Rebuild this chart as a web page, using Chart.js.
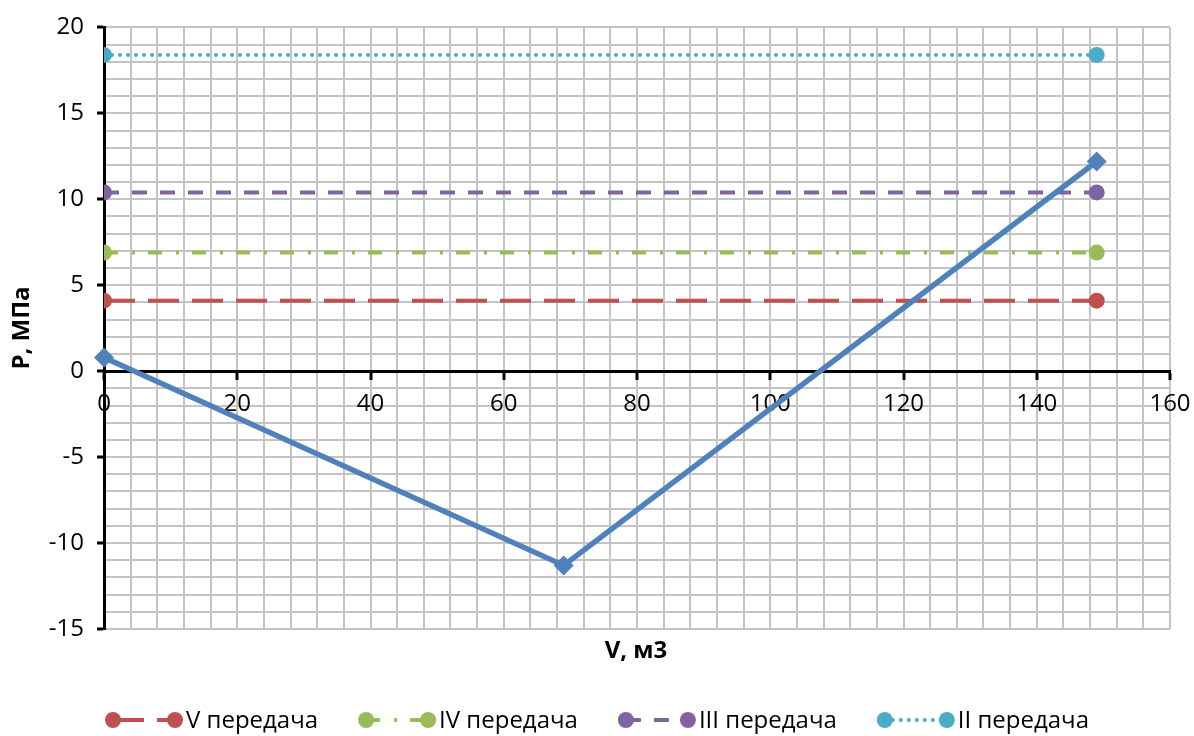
<!DOCTYPE html>
<html>
<head>
<meta charset="utf-8">
<script src="https://cdn.jsdelivr.net/npm/chart.js@4/dist/chart.umd.min.js"></script>
<style>
  html, body { margin: 0; padding: 0; background: #fff; }
  #wrap { width: 1194px; height: 736px; }
</style>
</head>
<body>
<div id="wrap"><canvas id="c" width="1194" height="736"></canvas></div>
<script>
// Pressure lines of each gear (constant over the volume range)
const gearNames = ['V передача', 'IV передача', 'III передача', 'II передача'];
const gearPressure = [4.1, 6.9, 10.4, 18.4];
const gearVolume = [0, 149];

// Pressure curve over volume
const curveVolume = [0, 69, 149];
const curvePressure = [0.8, -11.3, 12.2];

// Axis settings
const xMin = 0, xMax = 160, xStep = 4, xLabelStep = 20;
const yMin = -15, yMax = 20, yStep = 1, yLabelStep = 5;
const xTitle = 'V, м3';
const yTitle = 'P, МПа';

const FONT = '"Open Sans", "DejaVu Sans", sans-serif';
const FS = 24;

const gearStyles = [
  { color: '#C0504D', dash: [31, 13], cap: 'butt' },
  { color: '#9BBB59', dash: [14, 14, 3, 13], cap: 'butt' },
  { color: '#8064A2', dash: [15, 13], cap: 'butt' },
  { color: '#4BACC6', dash: [0.1, 7.9], cap: 'round' }
];

const gearSets = gearNames.map((name, i) => ({
  label: name,
  data: gearVolume.map(v => ({ x: v, y: gearPressure[i] })),
  borderColor: gearStyles[i].color,
  backgroundColor: gearStyles[i].color,
  borderWidth: 4,
  borderDash: gearStyles[i].dash,
  borderCapStyle: gearStyles[i].cap,
  pointStyle: 'circle',
  pointRadius: 8,
  pointBorderWidth: 0,
  pointHoverRadius: 8,
  clip: { left: 0, top: 12, right: 12, bottom: 12 },
  order: 2,
  inLegend: true
}));

const curveSet = {
  label: 'P(V)',
  data: curveVolume.map((v, i) => ({ x: v, y: curvePressure[i] })),
  borderColor: '#4F81BD',
  backgroundColor: '#4F81BD',
  borderWidth: 5.5,
  pointStyle: 'rectRot',
  pointRadius: 10,
  pointBorderWidth: 0,
  pointHoverRadius: 10,
  clip: false,
  order: 1,
  inLegend: false
};

// Line-and-marker legend below the plot, centered
const lineLegend = {
  id: 'lineLegend',
  afterDraw(chart) {
    const ctx = chart.ctx;
    const y = 720;
    const r = 8, seg = 62, textGap = 11, itemGap = 40;
    ctx.save();
    ctx.font = `${FS}px ${FONT}`;
    const items = chart.data.datasets.filter(d => d.inLegend);
    const widths = items.map(d => r + seg + textGap + ctx.measureText(d.label).width);
    const total = widths.reduce((a, b) => a + b, 0) + itemGap * (items.length - 1);
    let x = (chart.width - total) / 2;
    items.forEach((d, i) => {
      const x1 = x + r, x2 = x + r + seg;
      ctx.strokeStyle = d.borderColor;
      ctx.lineWidth = d.borderWidth;
      ctx.lineCap = d.borderCapStyle;
      ctx.setLineDash(d.borderDash);
      ctx.beginPath();
      ctx.moveTo(x1, y);
      ctx.lineTo(x2, y);
      ctx.stroke();
      ctx.setLineDash([]);
      ctx.fillStyle = d.backgroundColor;
      [x1, x2].forEach(px => {
        ctx.beginPath();
        ctx.arc(px, y, r, 0, Math.PI * 2);
        ctx.fill();
      });
      ctx.fillStyle = '#000';
      ctx.textAlign = 'left';
      ctx.textBaseline = 'middle';
      ctx.fillText(d.label, x2 + textGap, y + 1);
      x += widths[i] + itemGap;
    });
    ctx.restore();
  }
};

// Axis titles
const axisTitles = {
  id: 'axisTitles',
  afterDraw(chart) {
    const ctx = chart.ctx;
    ctx.save();
    ctx.fillStyle = '#000';
    ctx.font = `bold ${FS}px ${FONT}`;
    ctx.textAlign = 'center';
    ctx.textBaseline = 'middle';
    ctx.fillText(xTitle, 636, 651);
    ctx.translate(22, 328);
    ctx.rotate(-Math.PI / 2);
    ctx.fillText(yTitle, 0, 0);
    ctx.restore();
  }
};

new Chart(document.getElementById('c'), {
  type: 'line',
  data: { datasets: [...gearSets, curveSet] },
  plugins: [lineLegend, axisTitles],
  options: {
    responsive: false,
    animation: false,
    layout: { padding: { top: 24, right: 24, bottom: 107, left: 0 } },
    plugins: { legend: { display: false }, tooltip: { enabled: false } },
    scales: {
      x: {
        type: 'linear',
        min: xMin, max: xMax,
        position: { y: 0 },
        afterFit: s => { s.paddingRight = 0; s.paddingLeft = 0; },
        ticks: {
          stepSize: xStep,
          autoSkip: false,
          maxRotation: 0,
          padding: 12,
          color: '#000',
          font: { family: FONT, size: FS },
          callback: v => (Math.round(v) % xLabelStep === 0 ? String(Math.round(v)) : '')
        },
        grid: {
          color: '#c4c4c4',
          lineWidth: 2,
          tickLength: 7,
          tickWidth: 3,
          tickColor: c => (c.tick && Math.round(c.tick.value) % xLabelStep === 0 ? '#000' : 'rgba(0,0,0,0)')
        },
        border: { color: '#000', width: 3 }
      },
      y: {
        type: 'linear',
        min: yMin, max: yMax,
        position: 'left',
        afterFit: s => { s.width = 104; },
        ticks: {
          stepSize: yStep,
          autoSkip: false,
          padding: 13,
          color: '#000',
          font: { family: FONT, size: FS },
          callback: v => (Math.round(v) % yLabelStep === 0 ? String(Math.round(v)) : '')
        },
        grid: {
          color: '#c4c4c4',
          lineWidth: 2,
          tickLength: 7,
          tickWidth: 3,
          tickColor: c => (c.tick && Math.round(c.tick.value) % yLabelStep === 0 ? '#000' : 'rgba(0,0,0,0)')
        },
        border: { color: '#000', width: 3 }
      }
    }
  }
});
</script>
</body>
</html>
